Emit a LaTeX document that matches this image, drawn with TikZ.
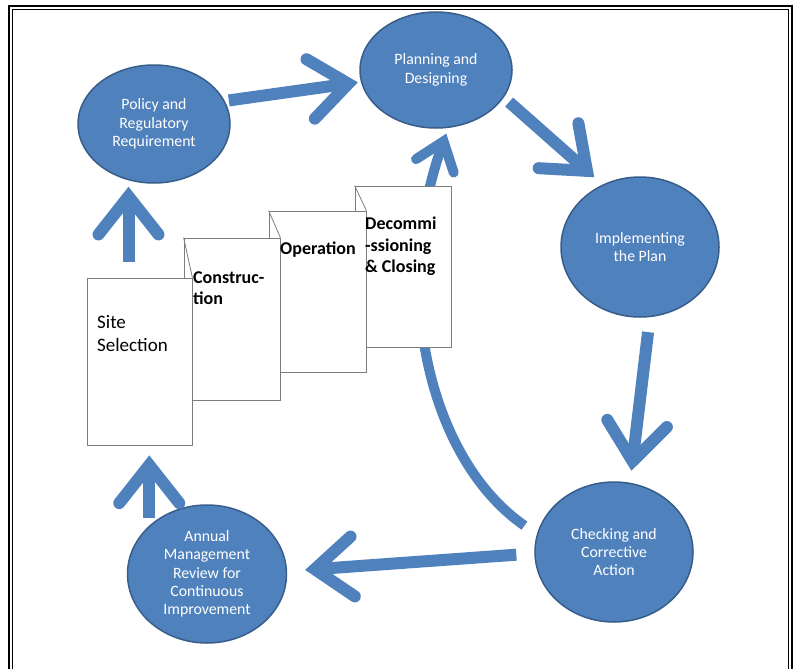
\documentclass[tikz,border=0pt]{standalone}
\usepackage{fontspec}
\setmainfont{Carlito}
\usetikzlibrary{shapes.geometric,arrows.meta}

\definecolor{cycleblue}{RGB}{79,129,189}
\definecolor{cycleedge}{RGB}{56,93,138}
\definecolor{pageedge}{RGB}{125,125,125}

\tikzset{
  stage/.style={ellipse, fill=cycleblue, draw=cycleedge, line width=1.5pt,
    inner sep=0pt, text=white, align=center, font=\fontsize{15.8}{18.3}\selectfont},
  page/.style={rectangle, fill=white, draw=pageedge, line width=0.8pt, inner sep=0pt},
  pagetext/.style={anchor=north west, inner sep=0pt, align=left},
  bigarrow/.style={draw=cycleblue, line width=12pt,
    -{Straight Barb[length=38pt, width=60pt, line cap=round, line join=miter]}},
  backarrow/.style={draw=cycleblue, line width=10pt,
    -{Straight Barb[length=26pt, width=40pt, line cap=round, line join=miter]}}
}

\begin{document}
\begin{tikzpicture}[x=1pt, y=-1pt]
  \useasboundingbox (0,0) rectangle (794,669);

  % frame
  \draw[line width=2pt] (9,669) -- (9,6) -- (792,6) -- (792,669);
  \draw[line width=0.8pt] (12.5,669) -- (12.5,9.5) -- (788.5,9.5) -- (788.5,669);

  % the cycle
  \node[stage, minimum width=152, minimum height=118] (pol) at (154,124) {Policy and\\Regulatory\\Requirement};
  \node[stage, minimum width=152, minimum height=116] (plan) at (436,70) {Planning and\\Designing};
  \node[stage, minimum width=158, minimum height=140] (impl) at (640,247) {Implementing\\the Plan};
  \node[stage, minimum width=158, minimum height=140] (check) at (614,552) {Checking and\\Corrective\\Action};
  \node[stage, minimum width=159, minimum height=138] (annual) at (207,574) {Annual\\Management\\Review for\\Continuous\\Improvement};

  % back from checking, runs behind the pages
  \draw[backarrow, shorten <=15pt, shorten >=6pt]
    (check.167) .. controls +(-107,-74) and +(-58,163) .. (plan.282);

  % stacked pages
  \node[page, minimum width=96, minimum height=161] (decom) at (403,266.5) {};
  \node[page, minimum width=97, minimum height=161] (oper) at (317.5,291.5) {};
  \node[page, minimum width=96, minimum height=162] (constr) at (232,319) {};
  \node[page, minimum width=105, minimum height=167] (site) at (139.5,361.5) {};
  \draw[pageedge, line width=0.8pt] (decom.north west) -- (oper.north east);
  \draw[pageedge, line width=0.8pt] (oper.north west) -- (constr.north east);
  \draw[pageedge, line width=0.8pt] (constr.north west) -- (site.north east);

  \node[pagetext, font=\fontsize{19}{23}\selectfont] (sitetxt) at (97,315) {Site\\Selection};
  \node[pagetext, font=\bfseries\fontsize{18}{21}\selectfont] (constrtxt) at (193,271) {Construc-\\tion};
  \node[pagetext, font=\bfseries\fontsize{18}{21}\selectfont] (opertxt) at (280,242) {Operation};
  \node[pagetext, font=\bfseries\fontsize{18}{21.5}\selectfont] (decomtxt) at (365,217) {Decommi\\-ssioning\\\& Closing};

  % arrows round the cycle
  \coordinate (siteup) at ([xshift=-11pt]site.north);
  \coordinate (sitedown) at ([xshift=10pt]site.south);
  \draw[bigarrow, shorten <=16pt, shorten >=3pt] (siteup) -- (siteup |- pol.south);
  \draw[bigarrow, shorten <=4pt, shorten >=3pt] (pol.18) -- (plan.189);
  \draw[bigarrow, shorten <=7pt, shorten >=11pt] (plan.338) -- (impl.121);
  \draw[bigarrow, shorten <=15pt, shorten >=12pt] (impl.278) -- (check.77);
  \draw[bigarrow, shorten <=18pt, shorten >=18pt] (check.181) -- (annual.2);
  \draw[bigarrow, shorten <=8pt, shorten >=10pt] (annual.140) -- (annual.140 |- sitedown);
\end{tikzpicture}
\end{document}
